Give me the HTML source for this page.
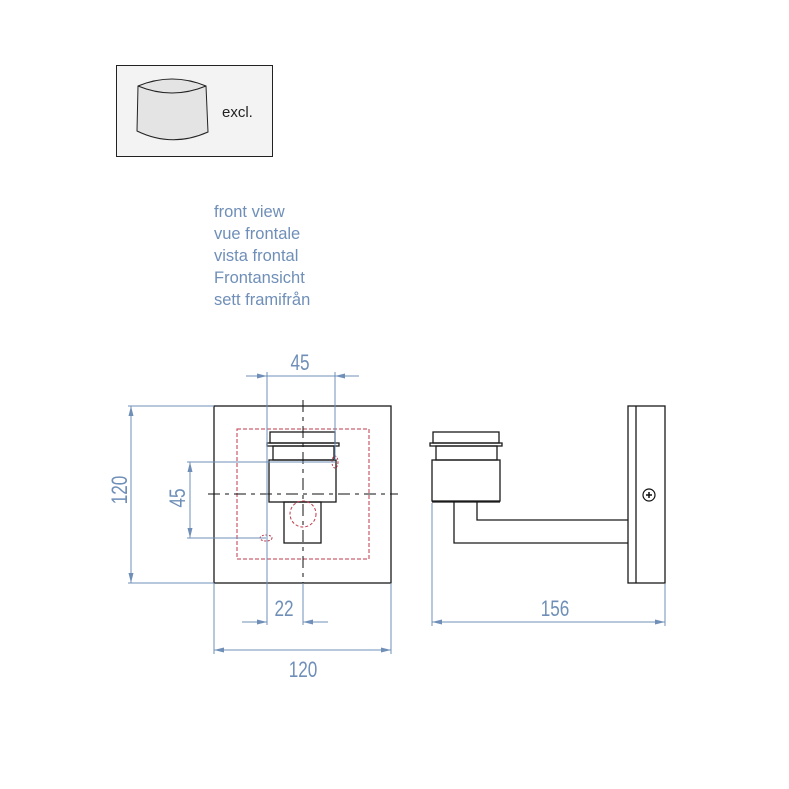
<!DOCTYPE html>
<html><head><meta charset="utf-8"><style>
html,body{margin:0;padding:0;background:#fff;}
svg{display:block;}
.d{stroke:#6f8fb8;stroke-width:1;fill:none;}
.k{stroke:#1a1a1a;stroke-width:1.3;fill:none;}
.t{font-family:"Liberation Sans",sans-serif;fill:#6f8fb8;font-size:22px;}
.l{font-family:"Liberation Sans",sans-serif;fill:#6f8fb8;font-size:16.5px;}
</style></head><body>
<svg width="789" height="789" viewBox="0 0 789 789" xmlns="http://www.w3.org/2000/svg">
<defs><marker id="a" viewBox="0 0 10 6" refX="10" refY="3" markerWidth="10" markerHeight="6" orient="auto-start-reverse" markerUnits="userSpaceOnUse"><path d="M0,0.5 L10,3 L0,5.5z" fill="#6f8fb8"/></marker></defs>
<!-- legend -->
<rect x="116.5" y="65.5" width="156" height="91" fill="#f3f3f3" stroke="#222" stroke-width="1"/>
<path d="M138,86 Q172,72 206,86 L208,132 Q172,148 137,131 Z" fill="#e4e4e4" stroke="#222" stroke-width="1"/>
<path d="M138,86 Q172,100 206,86" fill="none" stroke="#222" stroke-width="1"/>
<text x="222" y="117" font-family="Liberation Sans,sans-serif" font-size="15" fill="#222">excl.</text>
<text class="l" x="214" y="217">front view</text>
<text class="l" x="214" y="239">vue frontale</text>
<text class="l" x="214" y="261">vista frontal</text>
<text class="l" x="214" y="283">Frontansicht</text>
<text class="l" x="214" y="305">sett framifrån</text>
<!-- front view -->
<rect class="k" x="214" y="406" width="177" height="177"/>
<rect x="237" y="429" width="132" height="130" fill="none" stroke="#c0394a" stroke-width="1" stroke-dasharray="4,2"/>
<line x1="303" y1="400" x2="303" y2="592" stroke="#111" stroke-width="1" stroke-dasharray="12,5,4,5"/>
<line x1="208" y1="494" x2="398" y2="494" stroke="#111" stroke-width="1" stroke-dasharray="12,5,4,5"/>
<rect class="k" x="270" y="432" width="65" height="11"/>
<rect class="k" x="267" y="443" width="72" height="3"/>
<rect class="k" x="273" y="446" width="61" height="14"/>
<rect class="k" x="269" y="460" width="67" height="42"/>
<rect class="k" x="284" y="502" width="37" height="41"/>
<circle cx="303" cy="514" r="13" fill="none" stroke="#c0394a" stroke-dasharray="3,2"/>
<ellipse cx="335" cy="462" rx="3" ry="6" fill="none" stroke="#c0394a" stroke-dasharray="2,1.5"/>
<ellipse cx="266" cy="538" rx="6" ry="3" fill="none" stroke="#c0394a" stroke-dasharray="2,1.5"/>
<!-- dims front -->
<line class="d" x1="267" y1="372" x2="267" y2="625"/>
<line class="d" x1="335" y1="372" x2="335" y2="460"/>
<line class="d" x1="246" y1="376" x2="267" y2="376" marker-end="url(#a)"/>
<line class="d" x1="267" y1="376" x2="335" y2="376"/>
<line class="d" x1="359" y1="376" x2="335" y2="376" marker-end="url(#a)"/>
<text class="t" transform="translate(300,370) scale(0.78,1)" text-anchor="middle">45</text>
<line class="d" x1="187" y1="462" x2="335" y2="462"/>
<line class="d" x1="187" y1="538" x2="266" y2="538"/>
<line class="d" x1="190" y1="462" x2="190" y2="538" marker-start="url(#a)" marker-end="url(#a)"/>
<text class="t" transform="translate(185,498) rotate(-90) scale(0.78,1)" text-anchor="middle">45</text>
<line class="d" x1="128" y1="406" x2="214" y2="406"/>
<line class="d" x1="128" y1="583" x2="214" y2="583"/>
<line class="d" x1="131" y1="406" x2="131" y2="583" marker-start="url(#a)" marker-end="url(#a)"/>
<text class="t" transform="translate(127,490) rotate(-90) scale(0.78,1)" text-anchor="middle">120</text>
<line class="d" x1="303" y1="583" x2="303" y2="625"/>
<line class="d" x1="242" y1="622" x2="267" y2="622" marker-end="url(#a)"/>
<line class="d" x1="328" y1="622" x2="303" y2="622" marker-end="url(#a)"/>
<text class="t" transform="translate(284,616) scale(0.78,1)" text-anchor="middle">22</text>
<line class="d" x1="214" y1="583" x2="214" y2="654"/>
<line class="d" x1="391" y1="583" x2="391" y2="654"/>
<line class="d" x1="214" y1="650" x2="391" y2="650" marker-start="url(#a)" marker-end="url(#a)"/>
<text class="t" transform="translate(303,677) scale(0.78,1)" text-anchor="middle">120</text>
<!-- side view -->
<rect class="k" x="433" y="432" width="66" height="11"/>
<rect class="k" x="430" y="443" width="72" height="3"/>
<rect class="k" x="436" y="446" width="61" height="14"/>
<rect class="k" x="432" y="460" width="68" height="41"/>
<line class="k" x1="432" y1="502" x2="500" y2="502"/>
<polyline class="k" points="454,502 454,543 628,543"/>
<polyline class="k" points="477,502 477,520 628,520"/>
<rect class="k" x="628" y="406" width="37" height="177"/>
<line class="k" x1="636" y1="406" x2="636" y2="583"/>
<circle cx="649" cy="495" r="6" fill="none" stroke="#111" stroke-width="1.2"/>
<path d="M646,495h6M649,492v6" stroke="#111" stroke-width="1.5"/>
<line class="d" x1="432" y1="503" x2="432" y2="626"/>
<line class="d" x1="665" y1="584" x2="665" y2="626"/>
<line class="d" x1="432" y1="622" x2="665" y2="622" marker-start="url(#a)" marker-end="url(#a)"/>
<text class="t" transform="translate(555,616) scale(0.78,1)" text-anchor="middle">156</text>
</svg>
</body></html>
